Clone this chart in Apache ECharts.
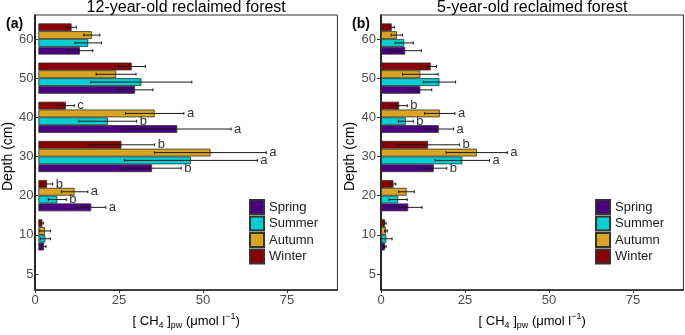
<!DOCTYPE html>
<html>
<head>
<meta charset="utf-8">
<script src="https://cdn.jsdelivr.net/npm/echarts@6/dist/echarts.min.js"></script>
<style>
html,body{margin:0;padding:0;background:#fff;}
#main{width:685px;height:335px;}
</style>
</head>
<body>
<div id="main"></div>
<script>
var depths = ['5','10','20','30','40','50','60'];
var seasons = ['Spring','Summer','Autumn','Winter'];
var seasonColors = ['#4B0082','#00CED1','#DAA520','#8B0000'];
var xTicks = [0,25,50,75];
var panelTitles = ['12-year-old reclaimed forest','5-year-old reclaimed forest'];
var panelTags = ['(a)','(b)'];

// 12-year-old site, mean and sd per depth (5 cm has no data)
var spring12   = [null, 1.7, 15.9, 34.2, 41.8, 29.1, 12.5];
var spring12Sd = [null, 0.6, 4.4, 8.8, 16.2, 5.4, 3.9];
var summer12   = [null, 2.1, 5.7, 45.9, 20.9, 31.0, 15.0];
var summer12Sd = [null, 1.5, 2.7, 20.0, 8.7, 15.2, 4.0];
var autumn12   = [null, 2.0, 10.9, 51.8, 35.0, 23.4, 16.1];
var autumn12Sd = [null, 1.6, 4.0, 16.8, 8.8, 6.0, 2.4];
var winter12   = [null, 1.2, 2.6, 25.0, 8.3, 28.1, 10.0];
var winter12Sd = [null, 0.3, 1.7, 10.0, 2.5, 4.1, 1.4];
var spring12Let = ['', '', 'a', 'b', 'a', '', ''];
var summer12Let = ['', '', 'b', 'a', 'b', '', ''];
var autumn12Let = ['', '', 'a', 'a', 'a', '', ''];
var winter12Let = ['', '', 'b', 'b', 'c', '', ''];

// 5-year-old site
var spring5   = [null, 1.2, 8.1, 15.7, 17.2, 11.7, 7.2];
var spring5Sd = [null, 0.3, 4.1, 3.9, 4.4, 3.4, 4.8];
var summer5   = [null, 1.6, 5.1, 24.2, 7.4, 17.4, 6.9];
var summer5Sd = [null, 1.7, 2.7, 8.1, 2.2, 4.8, 2.7];
var autumn5   = [null, 1.5, 7.6, 28.5, 17.5, 11.7, 4.7];
var autumn5Sd = [null, 0.4, 2.3, 9.1, 4.5, 5.3, 1.7];
var winter5   = [null, 1.2, 3.7, 14.0, 5.4, 14.8, 3.2];
var winter5Sd = [null, 0.3, 0.7, 9.4, 2.4, 1.7, 0.75];
var spring5Let = ['', '', '', 'b', 'a', '', ''];
var summer5Let = ['', '', '', 'a', 'b', '', ''];
var autumn5Let = ['', '', '', 'a', 'a', '', ''];
var winter5Let = ['', '', '', 'b', 'b', '', ''];

var FONT = '"Liberation Sans", Arial, sans-serif';
var barW = 7.8;
var xMax = 90;

var panelMeans = [[spring12, summer12, autumn12, winter12], [spring5, summer5, autumn5, winter5]];
var panelSds = [[spring12Sd, summer12Sd, autumn12Sd, winter12Sd], [spring5Sd, summer5Sd, autumn5Sd, winter5Sd]];
var panelLets = [[spring12Let, summer12Let, autumn12Let, winter12Let], [spring5Let, summer5Let, autumn5Let, winter5Let]];
var panelLeft = [35, 381];
var plotW = 302.4;

var grids = [], xAxes = [], yAxes = [], series = [], titles = [], legends = [];

/**
 * error bars + significance letters for one season, k = slot from top (0..3)
 */
function errSeries(means, sds, lets, k, ai) {
	var pts = [], lt = [];
	for (var i = 0; i < means.length; i++) {
		if (means[i] == null) continue;
		pts.push([means[i], i, sds[i]]);
		lt.push(lets[i]);
	}
	return {
		type: 'custom', xAxisIndex: ai, yAxisIndex: ai, data: pts,
		encode: {x: 0, y: 1}, z: 5, silent: true, clip: false,
		renderItem: function(params, api) {
			var m = api.value(0), c = api.value(1), s = api.value(2);
			var pL = api.coord([m - s, c]);
			var pR = api.coord([m + s, c]);
			var y = pL[1] + (k - 1.5) * barW;
			var st = {stroke: '#1a1a1a', lineWidth: 1};
			var kids = [
				{type: 'line', shape: {x1: pL[0], y1: y, x2: pR[0], y2: y}, style: st},
				{type: 'line', shape: {x1: pL[0], y1: y - 1.5, x2: pL[0], y2: y + 1.5}, style: st},
				{type: 'line', shape: {x1: pR[0], y1: y - 1.5, x2: pR[0], y2: y + 1.5}, style: st}
			];
			var t = lt[params.dataIndex];
			if (t) {
				kids.push({type: 'text', style: {text: t, x: pR[0] + 3, y: y, fill: '#333',
					fontSize: 13, fontFamily: FONT, align: 'left', verticalAlign: 'middle'}});
			}
			return {type: 'group', children: kids};
		}
	};
}

for (var p = 0; p < 2; p++) {
	var L = panelLeft[p];
	var fi = p * 2, di = p * 2 + 1; // frame grid, data grid
	grids.push({left: L, top: 15, width: plotW, height: 281.7, show: true, borderColor: '#333', borderWidth: 1});
	grids.push({left: L, top: 19.4, width: plotW, height: 274.2});

	xAxes.push({
		gridIndex: fi, type: 'value', min: 0, max: xMax, interval: 25,
		axisLine: {show: true, onZero: false, lineStyle: {color: '#222', width: 1.5}},
		axisTick: {show: true, length: 3, customValues: xTicks, lineStyle: {color: '#333'}},
		axisLabel: {customValues: xTicks, color: '#4d4d4d', fontSize: 13, margin: 4, fontFamily: FONT},
		splitLine: {show: false},
		name: '{n|[ CH}{sub|4}{n| ]}{sub|pw}{n| (μmol l}{sup|−1}{n|)}',
		nameLocation: 'middle', nameGap: 19,
		nameTextStyle: {
			color: '#000', fontFamily: FONT,
			rich: {
				n: {fontSize: 13, lineHeight: 18, fontFamily: FONT, color: '#000'},
				sub: {fontSize: 9, lineHeight: 10, verticalAlign: 'bottom', fontFamily: FONT, color: '#000'},
				sup: {fontSize: 9, lineHeight: 12, verticalAlign: 'top', fontFamily: FONT, color: '#000'}
			}
		}
	});
	xAxes.push({gridIndex: di, type: 'value', min: 0, max: xMax, show: false});

	yAxes.push({
		gridIndex: fi, type: 'value', min: 0, max: 1,
		axisLine: {show: true, onZero: false, lineStyle: {color: '#000', width: 1.5}},
		axisTick: {show: false}, axisLabel: {show: false}, splitLine: {show: false}
	});
	yAxes.push({
		gridIndex: di, type: 'category', data: depths,
		axisLine: {show: false},
		axisTick: {show: true, alignWithLabel: true, length: 4, lineStyle: {color: '#333'}},
		axisLabel: {color: '#4d4d4d', fontSize: 13, margin: 5, fontFamily: FONT},
		name: 'Depth (cm)', nameLocation: 'middle', nameGap: 21,
		nameTextStyle: {color: '#000', fontSize: 14, fontFamily: FONT}
	});

	// bars top-down: Winter, Autumn, Summer, Spring
	for (var k = 0; k < 4; k++) {
		var si = 3 - k;
		series.push({
			type: 'bar', name: seasons[si], xAxisIndex: di, yAxisIndex: di,
			data: panelMeans[p][si], barWidth: barW, barGap: '0%',
			itemStyle: {color: seasonColors[si], borderColor: '#333', borderWidth: 0.8}
		});
	}
	for (var k2 = 0; k2 < 4; k2++) {
		var s2 = 3 - k2;
		series.push(errSeries(panelMeans[p][s2], panelSds[p][s2], panelLets[p][s2], k2, di));
	}

	titles.push({
		text: panelTitles[p], left: L + plotW / 2, top: 0, textAlign: 'center', padding: 0,
		textStyle: {fontSize: 16, fontWeight: 'normal', color: '#000', fontFamily: FONT}
	});
	titles.push({
		text: panelTags[p], left: L - 29, top: 17, padding: 0,
		textStyle: {fontSize: 14, fontWeight: 'bold', color: '#000', fontFamily: FONT}
	});

	legends.push({
		data: seasons, orient: 'vertical', left: L + 214, top: 199, padding: 0,
		itemWidth: 14, itemHeight: 14, itemGap: 0.5, icon: 'rect', selectedMode: false,
		textStyle: {fontSize: 13, color: '#1a1a1a', fontFamily: FONT}
	});
}

var chart = echarts.init(document.getElementById('main'));
var option = {
	animation: false,
	backgroundColor: '#fff',
	title: titles,
	legend: legends,
	grid: grids,
	xAxis: xAxes,
	yAxis: yAxes,
	series: series
};
chart.setOption(option);
window.onresize = chart.resize;
</script>
</body>
</html>
